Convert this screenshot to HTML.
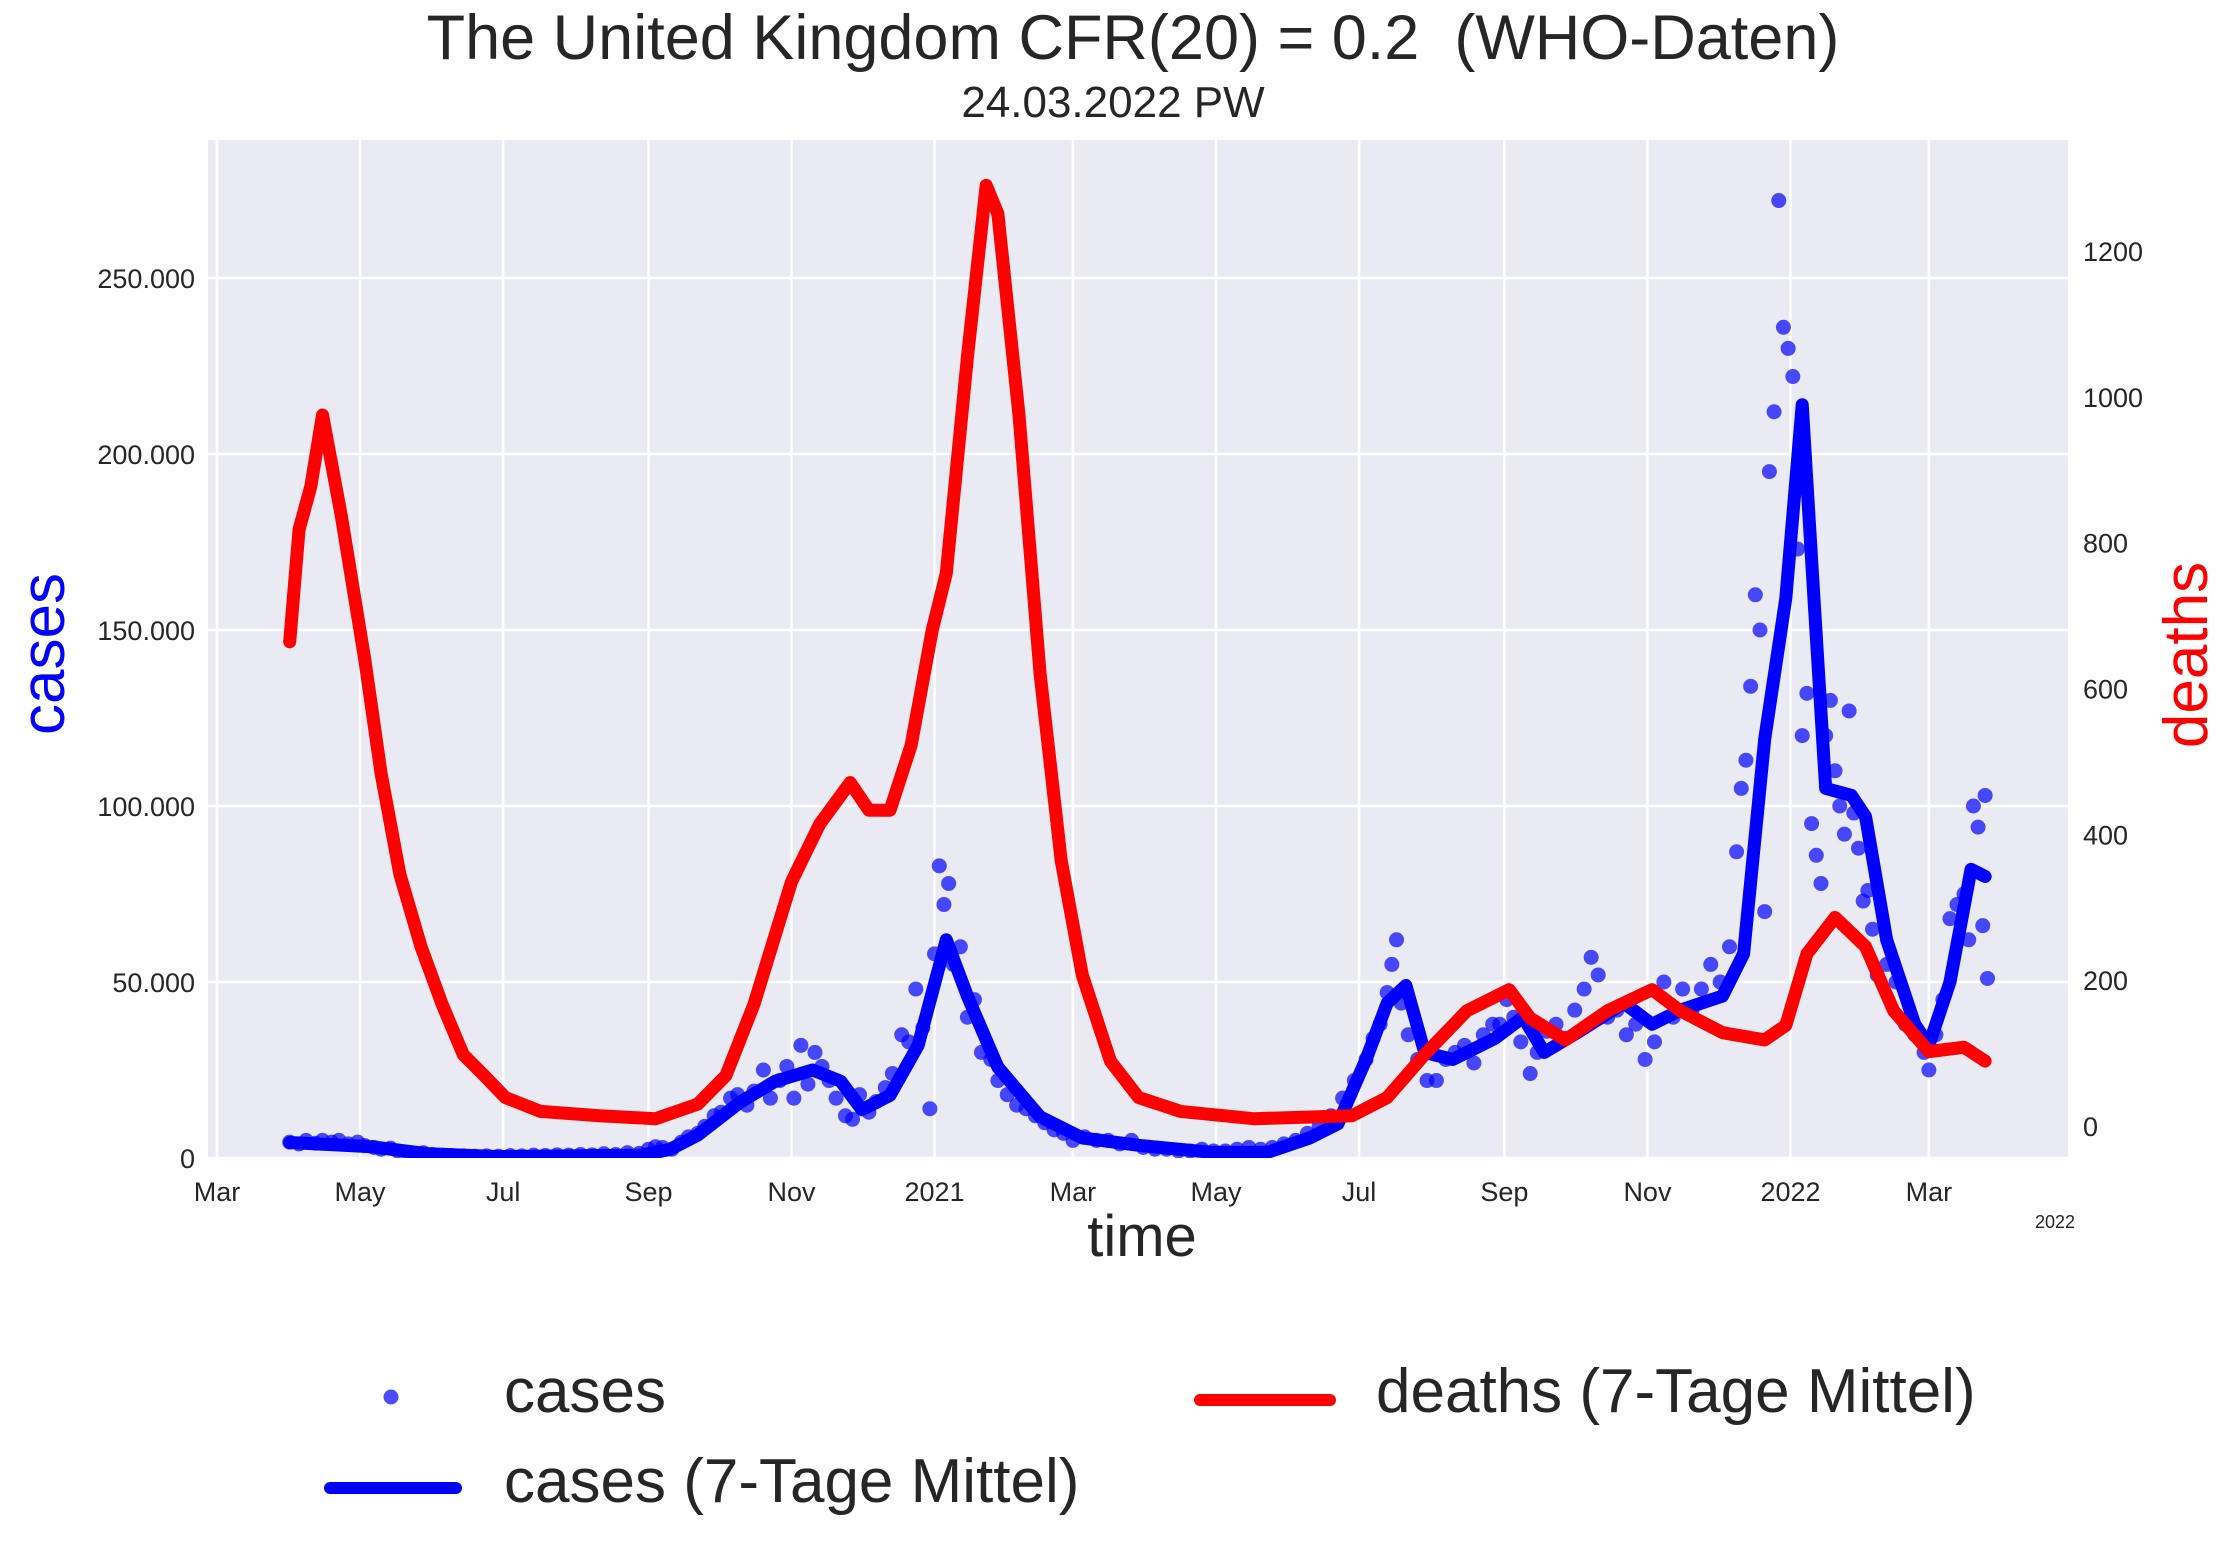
<!DOCTYPE html>
<html><head><meta charset="utf-8"><style>
body{margin:0;background:#fff}
svg{display:block;font-family:"Liberation Sans",Arial,sans-serif}
</style></head><body>
<svg id="chart" width="2232" height="1555" viewBox="0 0 2232 1555">
<text x="1133" y="59" font-size="63" text-anchor="middle" fill="#262626" style="white-space:pre" xml:space="preserve">The United Kingdom CFR(20) = 0.2  (WHO-Daten)</text>
<text x="1113" y="117" font-size="44" text-anchor="middle" fill="#262626">24.03.2022 PW</text>
<rect x="208" y="140" width="1860" height="1018" fill="#eaeaf2"/>
<g id="grid"></g>
<g id="clip-g"></g>
<g id="xticks"></g>
<g id="lticks"></g>
<g id="rticks"></g>
<text x="2055" y="1228" font-size="18" text-anchor="middle" fill="#262626">2022</text>
<text x="1142" y="1256" font-size="58" text-anchor="middle" fill="#262626">time</text>
<text transform="translate(64,654) rotate(-90)" font-size="62" text-anchor="middle" fill="#0000ff">cases</text>
<text transform="translate(2207,655) rotate(-90)" font-size="62" text-anchor="middle" fill="#ff0000">deaths</text>
<g>
<circle cx="391" cy="1397" r="7.5" fill="#0000ff" fill-opacity="0.7"/>
<text x="504" y="1412" font-size="62" fill="#262626">cases</text>
<line x1="330" y1="1488" x2="456" y2="1488" stroke="#0000ff" stroke-width="12" stroke-linecap="round"/>
<text x="504" y="1502" font-size="62" fill="#262626">cases (7-Tage Mittel)</text>
<line x1="1200" y1="1400" x2="1330" y2="1400" stroke="#ff0000" stroke-width="12" stroke-linecap="round"/>
<text x="1376" y="1412" font-size="62" fill="#262626">deaths (7-Tage Mittel)</text>
</g>
</svg>
<script>
// days since 2020-03-01
const xTickDays=[0,61,122,184,245,306,365,426,487,549,610,671,730];
const xTickLabels=["Mar","May","Jul","Sep","Nov","2021","Mar","May","Jul","Sep","Nov","2022","Mar"];
const leftTicks=[0,50000,100000,150000,200000,250000];
const leftTickLabels=["0","50.000","100.000","150.000","200.000","250.000"];
const rightTicks=[0,200,400,600,800,1000,1200];
const deathDays=[31,35,40,45,53,63,70,78,87,96,105,114,123,138,163,187,205,217,229,245,257,270,278,287,296,305,311,320,328,333,342,351,360,369,381,393,411,442,484,499,515,533,551,560,575,593,612,624,642,660,669,678,690,703,715,730,745,754];
const deathVals=[664,818,877,975,837,640,483,345,246,167,98,69,39,20,14,10,30,69,167,335,414,471,433,433,522,680,758,1054,1290,1251,975,620,364,207,89,39,20,10,14,39,98,158,187,148,118,158,187,158,128,118,138,236,286,246,158,102,108,89];
const caseAvgDays=[31,66,90,120,181,193,205,223,238,254,266,275,287,299,311,320,333,351,369,393,424,448,466,478,490,499,507,515,527,545,557,566,581,600,612,624,642,651,660,669,676,681,686,697,703,712,724,730,739,748,754];
const caseAvgVals=[4.4,3.2,1.2,0.4,0.8,2.4,6.5,15.8,21.8,25,21.8,13.7,17.8,32,62,46,25.8,11.7,5.7,3.6,1.6,1.6,5.7,9.7,28,44,49,30,28,34,40,30,36,44,38,42,46,58,119,159,214,159,105,103,97,62,38,32,50,82,80];
const caseDays=[31,35,38,42,45,49,52,56,60,63,67,70,74,77,81,85,88,92,96,100,105,110,115,120,125,130,135,140,145,150,155,160,165,170,175,180,184,187,190,194,198,201,205,208,212,215,219,222,226,229,233,236,240,243,246,249,252,255,258,261,264,268,271,274,278,281,285,288,292,295,298,301,304,306,308,310,312,314,317,320,323,326,330,333,337,341,345,349,353,357,361,365,370,375,380,385,390,395,400,405,410,415,420,425,430,435,440,445,450,455,460,465,470,475,480,485,490,493,496,499,501,503,505,508,512,516,520,524,528,532,536,540,544,547,550,553,556,560,563,567,571,575,579,583,586,589,593,597,601,605,609,613,617,621,625,629,633,637,641,645,648,650,652,654,656,658,660,662,664,666,668,670,672,674,676,678,680,682,684,686,688,690,692,694,696,698,700,702,704,706,708,712,716,720,724,728,730,733,736,739,742,745,747,749,751,753,754,755];
const caseVals=[4.5,4,5,4.2,5,4.5,5,4,4.5,3.5,3,2.5,2.8,2,1.5,1.2,1.5,1,0.8,0.7,0.6,0.5,0.6,0.5,0.7,0.6,0.8,0.7,0.9,0.8,1,0.9,1.2,1,1.5,1.3,2.5,3.2,3,2.5,4.5,6,7,9,12,13,17,18,15,19,25,17,22,26,17,32,21,30,26,22,17,12,11,18,13,16,20,24,35,33,48,37,14,58,83,72,78,55,60,40,45,30,28,22,18,15,14,12,10,8,7,5,6,5,5,4,5,3,2.5,2.5,2,2,2.5,2,2,2.5,3,2.5,3,4,5,7,9,12,17,22,28,34,38,47,55,62,44,35,28,22,22,28,30,32,27,35,38,38,45,40,33,24,30,36,38,34,42,48,57,52,40,42,35,38,28,33,50,40,48,42,48,55,50,60,87,105,113,134,160,150,70,195,212,272,236,230,222,173,120,132,95,86,78,120,130,110,100,92,127,98,88,73,76,65,52,55,50,38,35,30,25,35,45,68,72,75,62,100,94,66,103,51];

const NS="http://www.w3.org/2000/svg";
const X0=208,X1=2068,Y0=140,Y1=1158;
const xs=d=>217+d*2.345;
const yL=v=>1158-v*0.003520;
const yR=v=>1126-v*0.7292;
function mk(tag,attrs,parent){const e=document.createElementNS(NS,tag);for(const k in attrs)e.setAttribute(k,attrs[k]);parent.appendChild(e);return e;}
const svg=document.getElementById('chart');
const grid=document.getElementById('grid');
xTickDays.forEach((d,i)=>{
  const l=mk('line',{x1:xs(d),x2:xs(d),y1:Y0,y2:Y1,stroke:'#fff','stroke-width':2.5},grid);
  
  
  const t=mk('text',{x:xs(d),y:1201,'font-size':27,'text-anchor':'middle',fill:'#262626'},document.getElementById('xticks'));
  t.textContent=xTickLabels[i];
  
  
});
leftTicks.forEach((v,i)=>{
  const l=mk('line',{x1:X0,x2:X1,y1:yL(v),y2:yL(v),stroke:'#fff','stroke-width':2.5},grid);
  
  
  const t=mk('text',{x:195,y:yL(v)+10,'font-size':27,'text-anchor':'end',fill:'#262626'},document.getElementById('lticks'));
  t.textContent=leftTickLabels[i];
  
  
});
rightTicks.forEach(v=>{
  const t=mk('text',{x:2083,y:yR(v)+10,'font-size':27,fill:'#262626'},document.getElementById('rticks'));
  t.textContent=String(v);
  
  
});
const defs=mk('defs',{},svg);
const cp=mk('clipPath',{id:'pc'},defs);
mk('rect',{x:X0,y:Y0,width:X1-X0,height:Y1-Y0},cp);
const g=document.getElementById('clip-g');
g.setAttribute('clip-path','url(#pc)');
const sc=mk('g',{},g);


caseDays.forEach((d,i)=>{
  const c=mk('circle',{cx:xs(d),cy:yL(caseVals[i]*1000),r:7.5,fill:'#0000ff','fill-opacity':0.7},sc);
  
  
});
const ca=mk('polyline',{points:caseAvgDays.map((d,i)=>xs(d)+','+yL(caseAvgVals[i]*1000)).join(' '),fill:'none',stroke:'#0000ff','stroke-width':13,'stroke-linejoin':'round','stroke-linecap':'round'},g);


const da=mk('polyline',{points:deathDays.map((d,i)=>xs(d)+','+yR(deathVals[i])).join(' '),fill:'none',stroke:'#ff0000','stroke-width':13,'stroke-linejoin':'round','stroke-linecap':'round'},g);


</script>
</body></html>
